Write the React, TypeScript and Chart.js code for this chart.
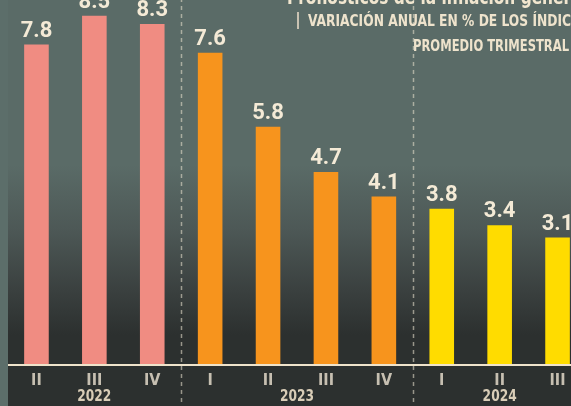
import React, { useEffect, useRef } from "react";
import { Chart, registerables } from "chart.js";
Chart.register(...registerables);

const quarters = ["II", "III", "IV", "I", "II", "III", "IV", "I", "II", "III"];
const values = [7.8, 8.5, 8.3, 7.6, 5.8, 4.7, 4.1, 3.8, 3.4, 3.1];
const years = ["2022", "2023", "2024"];
const yearStart = [0, 3, 7];
const yearEnd = [2, 6, 9];
const yearColors = ["#f08c82", "#f7941d", "#ffdc00"];
const titleText = "Pronósticos de la inflación general";
const subtitle1 = "VARIACIÓN ANUAL EN % DE LOS ÍNDICES";
const subtitle2 = "PROMEDIO TRIMESTRAL";

const OFF = 50; // canvas extends above the visible window
const NARROW = '"Liberation Sans Narrow", "DejaVu Sans Condensed", sans-serif';

function barColor(i: number) {
  for (let g = 0; g < years.length; g++) {
    if (i >= yearStart[g] && i <= yearEnd[g]) return yearColors[g];
  }
  return yearColors[0];
}

function squeezedText(ctx: any, text: string, x: number, y: number, sx: number) {
  ctx.save();
  ctx.translate(x, y);
  ctx.scale(sx, 1);
  ctx.fillText(text, 0, 0);
  ctx.restore();
}

const decor = {
  id: "decor",
  beforeDraw(chart: any) {
    const { ctx, width, height } = chart;
    ctx.save();
    ctx.fillStyle = "#5c6e6a";
    ctx.fillRect(0, 0, width, height);
    const g = ctx.createLinearGradient(0, OFF + 165, 0, OFF + 335);
    g.addColorStop(0, "#5a6b67");
    g.addColorStop(0.38, "#4d5856");
    g.addColorStop(0.74, "#3a403f");
    g.addColorStop(1, "#2c302f");
    ctx.fillStyle = g;
    ctx.fillRect(8, 0, width - 8, height);
    // dashed separators between years
    const x = chart.scales.x;
    ctx.strokeStyle = "rgba(225,218,200,0.6)";
    ctx.lineWidth = 1.5;
    ctx.setLineDash([4, 4]);
    for (let gi = 0; gi < years.length - 1; gi++) {
      const px = (x.getPixelForValue(yearEnd[gi]) + x.getPixelForValue(yearStart[gi + 1])) / 2;
      ctx.beginPath();
      ctx.moveTo(Math.round(px) + 0.5, 0);
      ctx.lineTo(Math.round(px) + 0.5, height);
      ctx.stroke();
    }
    ctx.restore();
  },
  afterDatasetsDraw(chart: any) {
    const { ctx, width, chartArea } = chart;
    const x = chart.scales.x;
    ctx.save();
    // baseline
    ctx.fillStyle = "#efe3cb";
    ctx.fillRect(8, chartArea.bottom - 1, width - 8, 2);
    // value labels
    const meta = chart.getDatasetMeta(0);
    ctx.fillStyle = "#f4ead6";
    ctx.font = "bold 22px Roboto, sans-serif";
    ctx.textAlign = "center";
    ctx.textBaseline = "alphabetic";
    meta.data.forEach((bar: any, i: number) => {
      ctx.fillText(values[i].toFixed(1), bar.x, bar.y - 8);
    });
    // years
    ctx.fillStyle = "#d9cdb7";
    ctx.font = "bold 16px " + NARROW;
    for (let gi = 0; gi < years.length; gi++) {
      const px = (x.getPixelForValue(yearStart[gi]) + x.getPixelForValue(yearEnd[gi])) / 2;
      ctx.save();
      ctx.translate(px, chartArea.bottom + 36);
      ctx.scale(0.85, 1);
      ctx.fillText(years[gi], 0, 0);
      ctx.restore();
    }
    // titles
    ctx.textAlign = "left";
    ctx.fillStyle = "#f1e6cf";
    ctx.font = "bold 21px " + NARROW;
    const tw = ctx.measureText("Pronósticos de la inflación gener").width;
    squeezedText(ctx, titleText, 287, OFF + 4, 284 / tw);
    ctx.fillStyle = "#c9c2b2";
    ctx.fillRect(297, OFF + 12, 2, 17);
    ctx.fillStyle = "#eee3cc";
    ctx.font = "bold 15px " + NARROW;
    const sw = ctx.measureText("VARIACIÓN ANUAL EN % DE LOS ÍNDIC").width;
    squeezedText(ctx, subtitle1, 308, OFF + 26, 263 / sw);
    const pw = ctx.measureText(subtitle2).width;
    squeezedText(ctx, subtitle2, 413, OFF + 51, 156 / pw);
    ctx.restore();
  },
};

export default function App() {
  const ref = useRef<HTMLCanvasElement>(null);
  useEffect(() => {
    if (!ref.current) return;
    const chart = new Chart(ref.current, {
      type: "bar",
      data: {
        labels: quarters,
        datasets: [
          {
            data: values,
            backgroundColor: values.map((_, i) => barColor(i)),
            borderWidth: 0,
            categoryPercentage: 1,
            barPercentage: 0.425,
          },
        ],
      },
      options: {
        responsive: false,
        animation: false,
        devicePixelRatio: 1,
        layout: { padding: { left: 7.5, right: 13.5, top: 0, bottom: 0 } },
        plugins: { legend: { display: false }, tooltip: { enabled: false }, title: { display: false } },
        scales: {
          x: {
            grid: { display: false, drawTicks: false },
            border: { display: false },
            ticks: {
              color: "#c6bfb1",
              font: { family: NARROW, size: 16, weight: "bold" },
              padding: 6,
              maxRotation: 0,
              autoSkip: false,
            },
            afterFit: (s: any) => {
              s.height = 41;
            },
          },
          y: { display: false, min: 0, max: 10.1 },
        },
      },
      plugins: [decor],
    });
    return () => chart.destroy();
  }, []);
  return (
    <div style={{ position: "fixed", left: 0, top: 0, width: 571, height: 406, overflow: "hidden", background: "#5c6e6a" }}>
      <canvas ref={ref} width={600} height={406 + OFF} style={{ position: "absolute", left: 0, top: -OFF }} />
    </div>
  );
}
